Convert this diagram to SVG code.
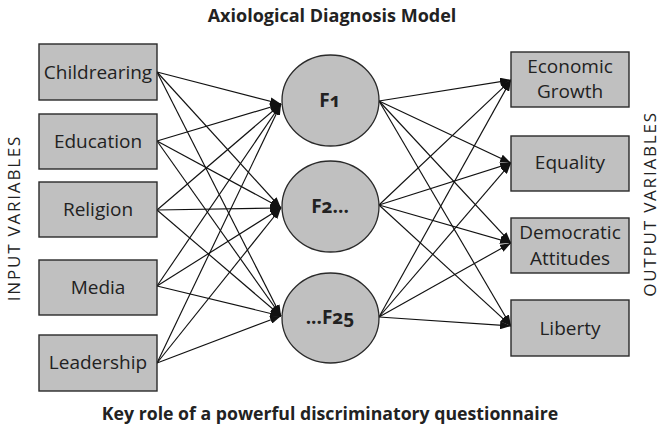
<svg xmlns="http://www.w3.org/2000/svg" width="660" height="429" viewBox="0 0 660 429">
  <defs>
    <marker id="arrow" viewBox="0 0 11 8" refX="11" refY="4" markerWidth="11" markerHeight="8" markerUnits="userSpaceOnUse" orient="auto">
      <path d="M0,0 L11,4 L0,8 z" fill="#111"/>
    </marker>
    <style>
      .box { fill: #c0c0c0; stroke: #2a2a2a; stroke-width: 1.4; }
      .fac { fill: #c0c0c0; stroke: #2a2a2a; stroke-width: 1.3; }
      .lbl { font-family: "Open Sans", "Liberation Sans", sans-serif; font-size: 19px; fill: #222; text-anchor: middle; }
      .flbl { font-family: "Open Sans", "Liberation Sans", sans-serif; font-size: 19px; font-weight: bold; fill: #222; text-anchor: middle; font-variant-numeric: oldstyle-nums; }
      .side { font-family: "Open Sans", "Liberation Sans", sans-serif; font-size: 17px; letter-spacing: 1.8px; fill: #222; text-anchor: middle; }
      .title { font-family: "Open Sans", "Liberation Sans", sans-serif; font-size: 18px; font-weight: bold; fill: #222; text-anchor: middle; }
      .edge { stroke: #111; stroke-width: 1.15; fill: none; marker-end: url(#arrow); }
    </style>
  </defs>

  <rect width="660" height="429" fill="#ffffff"/>

  <text class="title" x="332" y="22">Axiological Diagnosis Model</text>
  <text class="title" x="330" y="420" style="font-size:17.7px">Key role of a powerful discriminatory questionnaire</text>

  <text class="side" transform="translate(20,218) rotate(-90)">INPUT VARIABLES</text>
  <text class="side" transform="translate(656,204) rotate(-90)">OUTPUT VARIABLES</text>

  <!-- connectors -->
  <g id="connectors">
    <!-- inputs to factors -->
    <line class="edge" x1="157" y1="72" x2="281" y2="104"/>
    <line class="edge" x1="157" y1="72" x2="281" y2="208"/>
    <line class="edge" x1="157" y1="72" x2="281" y2="316"/>
    <line class="edge" x1="157" y1="141" x2="281" y2="104"/>
    <line class="edge" x1="157" y1="141" x2="281" y2="208"/>
    <line class="edge" x1="157" y1="141" x2="281" y2="316"/>
    <line class="edge" x1="157" y1="210" x2="281" y2="104"/>
    <line class="edge" x1="157" y1="210" x2="281" y2="208"/>
    <line class="edge" x1="157" y1="210" x2="281" y2="316"/>
    <line class="edge" x1="157" y1="286" x2="281" y2="104"/>
    <line class="edge" x1="157" y1="286" x2="281" y2="208"/>
    <line class="edge" x1="157" y1="286" x2="281" y2="316"/>
    <line class="edge" x1="157" y1="363" x2="281" y2="104"/>
    <line class="edge" x1="157" y1="363" x2="281" y2="208"/>
    <line class="edge" x1="157" y1="363" x2="281" y2="316"/>
    <!-- factors to outputs -->
    <line class="edge" x1="379" y1="101" x2="511" y2="80"/>
    <line class="edge" x1="379" y1="101" x2="511" y2="163"/>
    <line class="edge" x1="379" y1="101" x2="511" y2="243"/>
    <line class="edge" x1="379" y1="101" x2="511" y2="326"/>
    <line class="edge" x1="379" y1="205" x2="511" y2="80"/>
    <line class="edge" x1="379" y1="205" x2="511" y2="163"/>
    <line class="edge" x1="379" y1="205" x2="511" y2="243"/>
    <line class="edge" x1="379" y1="205" x2="511" y2="326"/>
    <line class="edge" x1="379" y1="317" x2="511" y2="80"/>
    <line class="edge" x1="379" y1="317" x2="511" y2="163"/>
    <line class="edge" x1="379" y1="317" x2="511" y2="243"/>
    <line class="edge" x1="379" y1="317" x2="511" y2="326"/>
  </g>

  <!-- input variables -->
  <g id="childrearing">
    <rect class="box" x="39" y="44" width="118" height="56"/>
    <text class="lbl" x="98" y="79">Childrearing</text>
  </g>
  <g id="education">
    <rect class="box" x="39" y="114" width="118" height="55"/>
    <text class="lbl" x="98" y="148">Education</text>
  </g>
  <g id="religion">
    <rect class="box" x="39" y="182" width="118" height="55"/>
    <text class="lbl" x="98" y="216">Religion</text>
  </g>
  <g id="media">
    <rect class="box" x="39" y="260" width="118" height="55"/>
    <text class="lbl" x="98" y="294">Media</text>
  </g>
  <g id="leadership">
    <rect class="box" x="39" y="335" width="118" height="56"/>
    <text class="lbl" x="98" y="369">Leadership</text>
  </g>

  <!-- factors -->
  <g id="f1">
    <ellipse class="fac" cx="330.5" cy="100.5" rx="48.5" ry="45.5"/>
    <text class="flbl" x="330" y="107">F1</text>
  </g>
  <g id="f2">
    <ellipse class="fac" cx="330.5" cy="206.5" rx="48.5" ry="45.5"/>
    <text class="flbl" x="330" y="213">F2...</text>
  </g>
  <g id="f25">
    <ellipse class="fac" cx="330.5" cy="318" rx="48.5" ry="45"/>
    <text class="flbl" x="330" y="324">...F25</text>
  </g>

  <!-- output variables -->
  <g id="economic-growth">
    <rect class="box" x="511" y="52" width="118" height="55"/>
    <text class="lbl" x="570" y="73">Economic</text>
    <text class="lbl" x="570" y="98">Growth</text>
  </g>
  <g id="equality">
    <rect class="box" x="511" y="136" width="118" height="55"/>
    <text class="lbl" x="570" y="169">Equality</text>
  </g>
  <g id="democratic-attitudes">
    <rect class="box" x="511" y="218" width="118" height="55"/>
    <text class="lbl" x="570" y="239">Democratic</text>
    <text class="lbl" x="570" y="265">Attitudes</text>
  </g>
  <g id="liberty">
    <rect class="box" x="511" y="300" width="118" height="56"/>
    <text class="lbl" x="570" y="335">Liberty</text>
  </g>
</svg>
